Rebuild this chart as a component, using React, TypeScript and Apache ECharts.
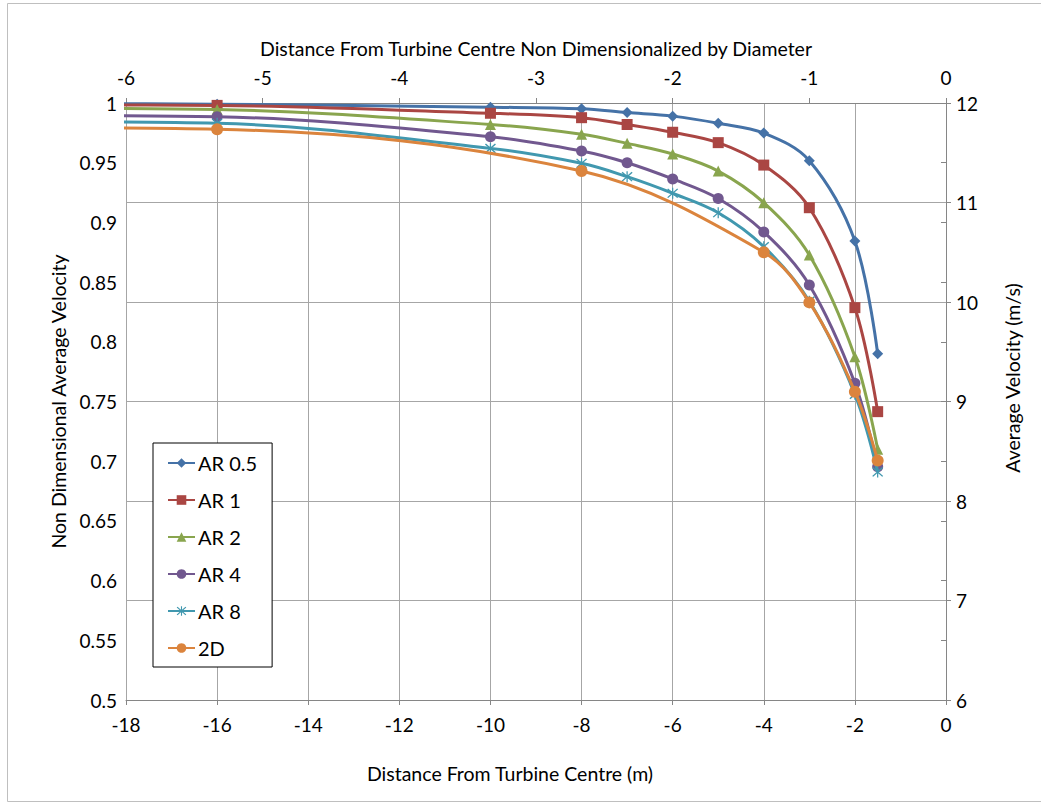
import React, { useEffect, useRef } from "react";
import * as echarts from "echarts";

// Distance from turbine centre (m); the first station lies beyond the plotted range
const X_AR = [-20, -16, -10, -8, -7, -6, -5, -4, -3, -2, -1.5];
const X_2D = [-20, -16, -8, -4, -3, -2, -1.5];

// Non-dimensional average velocity for each aspect ratio
const AR_05 = [0.9995, 0.999, 0.9965, 0.9952, 0.992, 0.989, 0.983, 0.9748, 0.9517, 0.8844, 0.79];
const AR_1 = [0.9985, 0.998, 0.9914, 0.9877, 0.982, 0.9755, 0.9668, 0.948, 0.9123, 0.8286, 0.7415];
const AR_2 = [0.9955, 0.9945, 0.982, 0.9738, 0.9662, 0.9573, 0.943, 0.9165, 0.8727, 0.7875, 0.71];
const AR_4 = [0.9895, 0.9885, 0.9718, 0.9598, 0.95, 0.9364, 0.92, 0.892, 0.8476, 0.7653, 0.6954];
const AR_8 = [0.9842, 0.983, 0.962, 0.9495, 0.9383, 0.9244, 0.9081, 0.8797, 0.834, 0.756, 0.691];
const TWO_D = [0.9792, 0.978, 0.943, 0.875, 0.833, 0.7582, 0.7005];

const SERIES_NAMES = ["AR 0.5", "AR 1", "AR 2", "AR 4", "AR 8", "2D"];
const COLORS = ["#4572A7", "#AA4643", "#89A54E", "#71588F", "#4198AF", "#DB843D"];

const STAR =
  "path://M4.5,0L5.5,0L5.5,10L4.5,10Z M0.6,1.4L1.4,0.6L9.4,8.6L8.6,9.4Z M8.6,0.6L9.4,1.4L1.4,9.4L0.6,8.6Z";

const FONT = "Lato";

const pairs = (xs: number[], ys: number[]) => xs.map((x, i) => [x, ys[i]]);

export default function App() {
  const ref = useRef<HTMLDivElement>(null);

  useEffect(() => {
    if (!ref.current) return;
    const chart = echarts.init(ref.current, undefined, { renderer: "svg" });

    const seriesDefs = [
      { data: pairs(X_AR, AR_05), symbol: "diamond", size: 11 },
      { data: pairs(X_AR, AR_1), symbol: "rect", size: 11 },
      { data: pairs(X_AR, AR_2), symbol: "triangle", size: 11 },
      { data: pairs(X_AR, AR_4), symbol: "circle", size: 11 },
      { data: pairs(X_AR, AR_8), symbol: STAR, size: 11 },
      { data: pairs(X_2D, TWO_D), symbol: "circle", size: 12 },
    ];

    const axisLine = { show: true, lineStyle: { color: "#868686", width: 1 } };
    const axisTick = { show: true, inside: false, length: 5, lineStyle: { color: "#868686" } };
    const label = { color: "#000", fontSize: 19, fontFamily: FONT };
    const grid = { show: true, lineStyle: { color: "#a6a6a6", width: 1 } };
    const titleStyle = { color: "#000", fontSize: 19.5, fontFamily: FONT };

    chart.setOption({
      animation: false,
      backgroundColor: "#fff",
      textStyle: { fontFamily: FONT },
      grid: { left: 126, right: 95, top: 103, bottom: 105 },
      xAxis: [
        {
          type: "value",
          position: "bottom",
          min: -18,
          max: 0,
          interval: 2,
          axisLine,
          axisTick,
          axisLabel: { ...label, margin: 15 },
          splitLine: grid,
        },
        {
          type: "value",
          position: "top",
          min: -6,
          max: 0,
          interval: 1,
          axisLine,
          axisTick,
          axisLabel: { ...label, margin: 16 },
          splitLine: { show: false },
          name: "Distance From Turbine Centre Non Dimensionalized by Diameter",
          nameLocation: "middle",
          nameGap: 45,
          nameTextStyle: titleStyle,
        },
      ],
      yAxis: [
        {
          type: "value",
          position: "left",
          min: 0.5,
          max: 1,
          interval: 0.05,
          axisLine,
          axisTick,
          axisLabel: {
            ...label,
            margin: 9,
            formatter: (v: number) => String(Number(v.toFixed(2))),
          },
          splitLine: { show: false },
          name: "Non Dimensional Average Velocity",
          nameLocation: "middle",
          nameGap: 56,
          nameTextStyle: titleStyle,
        },
        {
          type: "value",
          position: "right",
          min: 6,
          max: 12,
          interval: 1,
          axisLine,
          axisTick,
          axisLabel: { ...label, margin: 10 },
          splitLine: grid,
        },
      ],
      legend: {
        orient: "vertical",
        left: 153,
        top: 443,
        data: SERIES_NAMES,
        itemWidth: 27,
        itemHeight: 12,
        itemGap: 17,
        padding: [10, 15, 9, 14],
        borderColor: "#000",
        borderWidth: 1,
        backgroundColor: "#fff",
        textStyle: { color: "#000", fontSize: 20, fontFamily: FONT, lineHeight: 18, padding: [0, 0, 0, -2] },
      },
      graphic: [
        {
          type: "rect",
          shape: { x: 7.5, y: 3.5, width: 1040, height: 798 },
          style: { fill: "none", stroke: "#bfbfbf", lineWidth: 1 },
          silent: true,
          z: -1,
        },
        {
          type: "text",
          x: 510,
          y: 773,
          style: {
            text: "Distance From Turbine Centre (m)",
            fill: "#000",
            fontSize: 19.5,
            fontFamily: FONT,
            align: "center",
            verticalAlign: "middle",
          },
        },
        {
          type: "text",
          x: 1012,
          y: 378,
          rotation: Math.PI / 2,
          style: {
            text: "Average Velocity (m/s)",
            fill: "#000",
            fontSize: 19.5,
            fontFamily: FONT,
            align: "center",
            verticalAlign: "middle",
          },
        },
      ],
      series: seriesDefs.map((s, i) => ({
        name: SERIES_NAMES[i],
        type: "line",
        xAxisIndex: 0,
        yAxisIndex: 0,
        data: s.data,
        smooth: 0.35,
        clip: true,
        symbol: s.symbol,
        symbolSize: s.size,
        showAllSymbol: true,
        color: COLORS[i],
        lineStyle: { color: COLORS[i], width: 3 },
        itemStyle: { color: COLORS[i] },
        z: 2 + i,
      })),
    });

    return () => chart.dispose();
  }, []);

  return (
    <div
      ref={ref}
      style={{ position: "absolute", left: 0, top: 0, width: 1041, height: 805 }}
    />
  );
}
